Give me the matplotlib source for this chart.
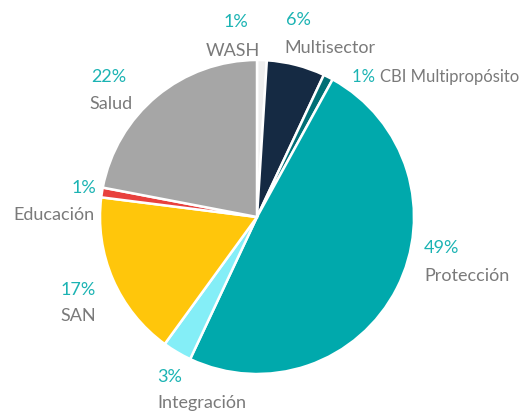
import matplotlib
matplotlib.use("Agg")
import matplotlib.pyplot as plt

categories = ["WASH", "Multisector", "CBI Multipropósito", "Protección",
              "Integración", "SAN", "Educación", "Salud"]
shares = [1, 6, 1, 49, 3, 17, 1, 22]
colors = ["#EEEEEE", "#152A43", "#006F75", "#00A9AC",
          "#84EEF7", "#FFC60B", "#E8413E", "#A6A6A6"]

# label anchor points in pixels of the 521x414 picture (pct, name)
label_pos = {
    "WASH": ((236, 22), (233, 51)),
    "Multisector": ((298, 20), (330, 48)),
    "Protección": ((441, 248), (467, 276)),
    "Integración": ((170, 377), (202, 403)),
    "SAN": ((78, 290), (78, 316)),
    "Educación": ((84, 188), (54, 215)),
    "Salud": ((109, 77), (111, 104)),
}

W, H = 521, 414
cx, cy, r = 257, 218, 157

fig = plt.figure(figsize=(W / 100, H / 100), dpi=100)
ax = fig.add_axes([(cx - r) / W, (H - cy - r) / H, 2 * r / W, 2 * r / H])

ax.pie(shares, colors=colors, startangle=90, counterclock=False,
       wedgeprops=dict(edgecolor="white", linewidth=1.8))
ax.set_xlim(-1, 1)
ax.set_ylim(-1, 1)
ax.axis("off")

pct_col = "#1BB3B3"
name_col = "#7A7A7A"
font = dict(family=["Lato", "DejaVu Sans"], fontsize=13)

def to_data(p):
    return (p[0] - cx) / r, (cy - p[1]) / r

for cat, val in zip(categories, shares):
    if cat == "CBI Multipropósito":
        x, y = to_data((519, 77))
        t1 = ax.text(x, y, cat, color=name_col, ha="right", va="center",
                     clip_on=False, family=font["family"], fontsize=12)
        ax.annotate("%d%% " % val, xycoords=t1, xy=(0, 0.5), va="center",
                    ha="right", color=pct_col, annotation_clip=False,
                    family=font["family"], fontsize=12)
        continue
    p_pct, p_name = label_pos[cat]
    x, y = to_data(p_pct)
    ax.text(x, y, "%d%%" % val, color=pct_col, ha="center", va="center",
            clip_on=False, **font)
    x, y = to_data(p_name)
    ax.text(x, y, cat, color=name_col, ha="center", va="center",
            clip_on=False, **font)

fig.savefig("out.png", dpi=100)
